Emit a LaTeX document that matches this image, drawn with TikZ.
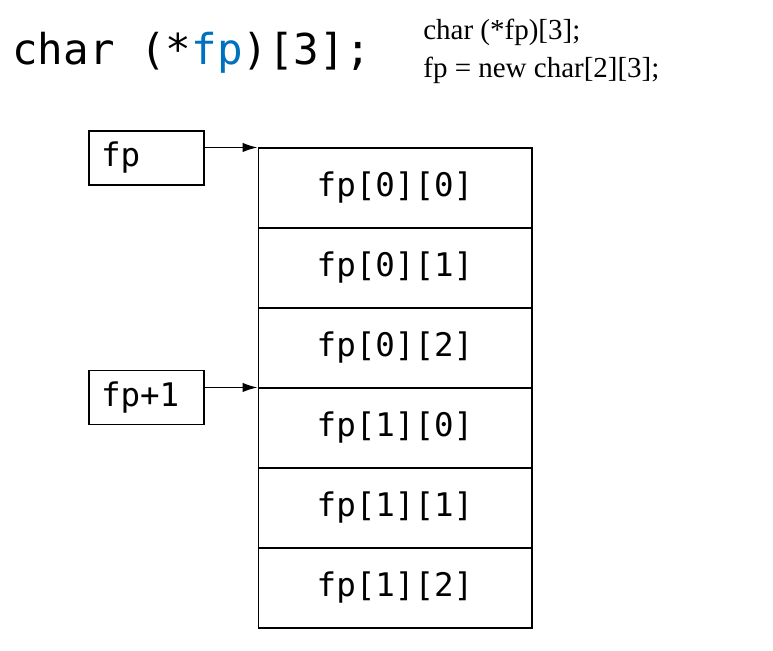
\documentclass[tikz,border=0pt]{standalone}
\usepackage{fontspec}
\setmainfont{Liberation Serif}
\setmonofont{DejaVu Sans Mono}
\usetikzlibrary{arrows.meta}
\definecolor{ptrblue}{HTML}{0070C0}

\begin{document}
\begin{tikzpicture}[x=0.02cm, y=-0.02cm, >={Latex[length=0.3cm,width=0.19cm]},
    every node/.style={font=\ttfamily\fontsize{18.5}{22}\selectfont},
    cell/.style={draw, line width=0.6pt, minimum width=5.48cm, minimum height=1.6cm, inner sep=0pt},
    ptrbox/.style={draw, line width=0.6pt, minimum width=2.3cm, minimum height=1.08cm, text width=1.82cm, align=left, inner sep=0pt}]
    \useasboundingbox (0,0) rectangle (773,651);

    % declaration
    \node (title) [anchor=base west, inner sep=0pt, font=\ttfamily\fontsize{24.2}{28}\selectfont] at (12,65)
        {char (*\textcolor{ptrblue}{fp})[3];};
    \node (decl1) [anchor=base west, inner sep=0pt, font=\rmfamily\fontsize{16.5}{20}\selectfont] at (423,40) {char (*fp)[3];};
    \node (decl2) [anchor=base west, inner sep=0pt, font=\rmfamily\fontsize{16.5}{20}\selectfont] at (423,78) {fp = new char[2][3];};

    % array cells
    \foreach \i/\j[count=\x] in {0/0,0/1,0/2,1/0,1/1,1/2}
        \node (c\x) [cell] at (395,108+80*\x) {fp[\i][\j]};

    % pointers
    \node (p0) [ptrbox] at (146.5,158) {fp};
    \node (p1) [ptrbox] at (146.5,397.5) {fp+1};
    \draw[->, line width=0.8pt] (p0.east |- c1.north) -- (c1.north west);
    \draw[->, line width=0.8pt] (p1.east |- c4.north) -- (c4.north west);
\end{tikzpicture}
\end{document}
